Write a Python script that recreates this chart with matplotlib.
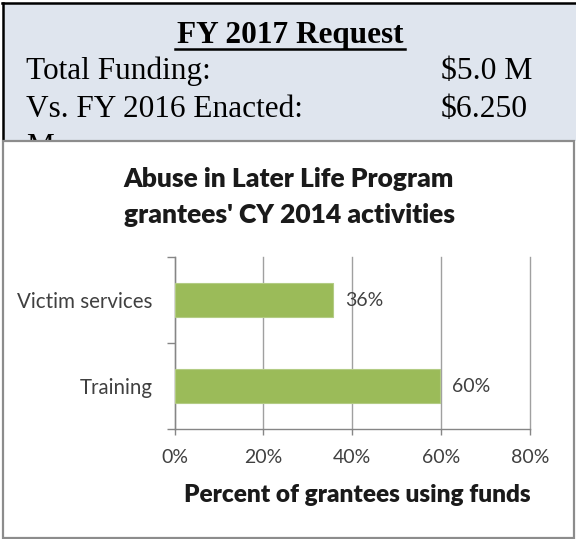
import matplotlib
matplotlib.use("Agg")
import matplotlib.pyplot as plt
from matplotlib.patches import Rectangle
from matplotlib.lines import Line2D

# --- Données ---
categories = ["Training", "Victim services"]   # de bas en haut
share_pct = [59.7, 35.6]
x_ticks = [0, 20, 40, 60, 80]
x_tick_labels = ["0%", "20%", "40%", "60%", "80%"]

header_title = "FY 2017 Request"
header_rows = ["Total Funding:", "Vs. FY 2016 Enacted:"]
header_values = ["$5.0 M", "$6.250"]
header_wrap = "M"

chart_title = ["Abuse in Later Life Program", "grantees' CY 2014 activities"]
x_label = "Percent of grantees using funds"

W, H = 576, 539
fig = plt.figure(figsize=(W / 100, H / 100), dpi=100)


def fx(px):
    return px / W


def fy(py):
    return 1 - py / H


serif = "Liberation Serif"
sans = "Lato"
txt_grey = "#404040"

# Encadré du haut (fond bleu-gris, bord noir)
fig.patches.append(Rectangle((fx(3), fy(141)), fx(576) - fx(3), fy(3) - fy(141),
                             transform=fig.transFigure, facecolor="#dfe5ee",
                             edgecolor="none", zorder=0))
fig.lines.append(Line2D([fx(2), fx(576)], [fy(3), fy(3)], transform=fig.transFigure,
                        color="black", lw=1.8, zorder=1))
fig.lines.append(Line2D([fx(3), fx(3)], [fy(3), fy(141)], transform=fig.transFigure,
                        color="black", lw=1.8, zorder=1))

fig.text(fx(290), fy(43), header_title, ha="center", va="baseline", family=serif,
         fontsize=22.5, fontweight="bold", zorder=1)
fig.lines.append(Line2D([fx(175), fx(405)], [fy(48.5), fy(48.5)], transform=fig.transFigure,
                        color="black", lw=1.8, zorder=1))
for i, (row, val) in enumerate(zip(header_rows, header_values)):
    base = 79 + i * 38
    fig.text(fx(26), fy(base), row, ha="left", va="baseline", family=serif,
             fontsize=22.5, zorder=1)
    fig.text(fx(441), fy(base), val, ha="left", va="baseline", family=serif,
             fontsize=22.8, zorder=1)
fig.text(fx(26), fy(155), header_wrap, ha="left", va="baseline", family=serif,
         fontsize=22.5, zorder=1)

# Cadre du graphique (recouvre la ligne coupée)
fig.patches.append(Rectangle((fx(3), fy(538)), fx(574) - fx(3), fy(141) - fy(538),
                             transform=fig.transFigure, facecolor="white",
                             edgecolor="#8c8c8c", lw=1.6, zorder=2))

for i, line in enumerate(chart_title):
    fig.text(fx(289), fy(187 + i * 36), line, ha="center", va="baseline", family=sans,
             fontsize=19, fontweight="heavy", color="#1a1a1a", zorder=4)

# Axes
ax = fig.add_axes([fx(174.5), fy(429), fx(530) - fx(174.5), fy(257) - fy(429)])
ax.set_zorder(3)
ax.patch.set_alpha(0)

bars = ax.barh(categories, share_pct, height=0.4, color="#9bbb59",
               edgecolor="#b3cc84", lw=0.8, zorder=3)
for rect, v in zip(bars, share_pct):
    ax.annotate(f"{v:.0f}%", (rect.get_width(), rect.get_y() + rect.get_height() / 2),
                xytext=(9, 0), textcoords="offset points", ha="left", va="center",
                family=sans, fontsize=14, color=txt_grey)

ax.set_xlim(0, 80)
ax.set_ylim(-0.5, 1.5)
ax.set_xticks(x_ticks)
ax.set_xticklabels(x_tick_labels, family=sans, fontsize=14, color=txt_grey)
ax.set_yticks([-0.5, 0.5, 1.5], minor=True)
ax.tick_params(axis="y", which="major", length=0, pad=16, labelsize=14.8, labelcolor=txt_grey)
ax.tick_params(axis="y", which="minor", length=5.5, color="#868686", width=1)
ax.tick_params(axis="x", length=4.5, color="#868686", width=1, pad=10)
for lab in ax.get_yticklabels():
    lab.set_family(sans)

ax.grid(axis="x", color="#a0a0a0", lw=1, zorder=1)
for gl in ax.get_xgridlines():
    gl.set_clip_on(False)
ax.set_axisbelow(True)
for side in ("top", "right"):
    ax.spines[side].set_visible(False)
for side in ("left", "bottom"):
    ax.spines[side].set_color("#868686")
    ax.spines[side].set_linewidth(1)

ax.set_xlabel(x_label, family=sans, fontsize=17.6, fontweight="heavy", color="#1a1a1a",
              va="center")
ax.xaxis.set_label_coords((357 - 174.5) / (530 - 174.5), (429 - 495) / 172)

fig.savefig("out.png", dpi=100)
